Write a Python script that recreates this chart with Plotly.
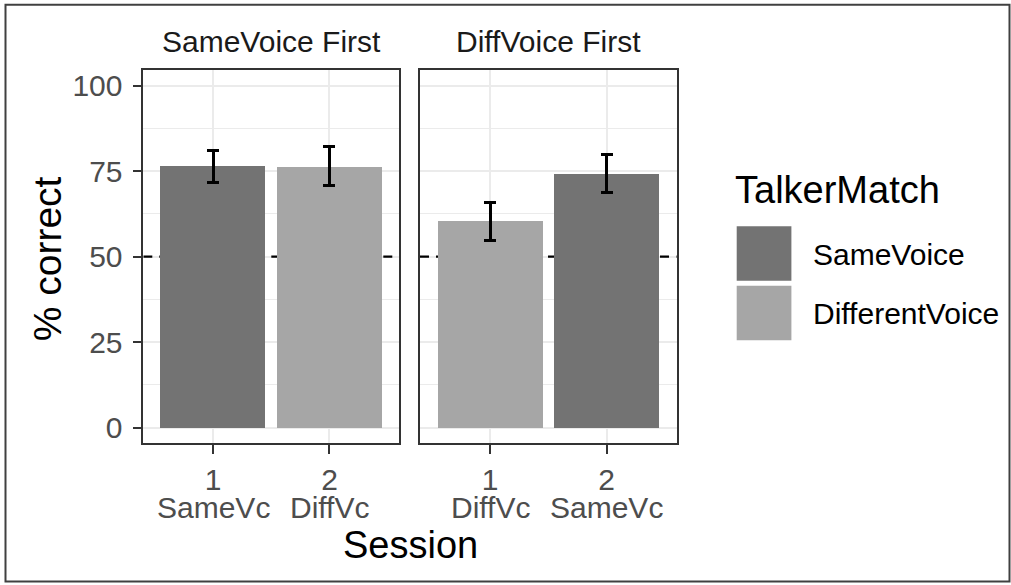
import plotly.graph_objects as go

# ---------------- data ----------------
panels = ["SameVoice First", "DiffVoice First"]
sessions = [1, 2]
session_numbers = ["1", "2"]
session_labels = [["SameVc", "DiffVc"], ["DiffVc", "SameVc"]]
talker = [["SameVoice", "DifferentVoice"], ["DifferentVoice", "SameVoice"]]
pct_correct = [[76.5, 76.2], [60.5, 74.3]]
ci_low = [[71.8, 70.8], [54.6, 68.6]]
ci_high = [[80.9, 82.2], [65.8, 79.9]]
legend_levels = ["SameVoice", "DifferentVoice"]
legend_title = "TalkerMatch"
y_ticks = [0, 25, 50, 75, 100]
chance_level = 50
x_title = "Session"
y_title = "% correct"

# ---------------- styles ----------------
fill = {"SameVoice": "#737373", "DifferentVoice": "#A6A6A6"}
FONT = "Liberation Sans, Arial, Helvetica, sans-serif"
W, H = 1011, 585
SMALL = 30
BIG = 38


def px_x(x):
    return x / W


def px_y(y):
    return 1 - y / H


x_domains = [(143.3, 399.3), (420.0, 676.7)]
y_domain = (443.3, 69.0)

fig = go.Figure()
axis_names = [("x", "y"), ("x2", "y2")]
for i, panel in enumerate(panels):
    xa, ya = axis_names[i]
    fig.add_trace(go.Bar(
        x=sessions,
        y=pct_correct[i],
        width=0.9,
        marker=dict(color=[fill[t] for t in talker[i]], line=dict(width=0)),
        error_y=dict(
            type="data", symmetric=False,
            array=[h - v for h, v in zip(ci_high[i], pct_correct[i])],
            arrayminus=[v - l for v, l in zip(pct_correct[i], ci_low[i])],
            color="black", thickness=3, width=6,
        ),
        xaxis=xa, yaxis=ya, showlegend=False,
        name=panel,
    ))

common_x = dict(
    range=[0.4, 2.6], tickvals=sessions, ticktext=session_numbers,
    ticks="outside", ticklen=9, tickwidth=2.4, tickcolor="#333333",
    showline=True, mirror=True, linecolor="#333333", linewidth=1.6,
    showgrid=True, gridcolor="#EBEBEB", gridwidth=2.4, zeroline=False,
    tickfont=dict(family=FONT, size=SMALL, color="#4D4D4D"),
    fixedrange=True,
)
common_y = dict(
    range=[-4.4, 104.6], tickvals=y_ticks,
    showline=True, mirror=True, linecolor="#333333", linewidth=1.6,
    showgrid=True, gridcolor="#EBEBEB", gridwidth=2.4, zeroline=False,
    minor=dict(dtick=12.5, tick0=0, showgrid=True, gridcolor="#EBEBEB", gridwidth=1.2),
    tickfont=dict(family=FONT, size=SMALL, color="#4D4D4D"),
    domain=[px_y(y_domain[0]), px_y(y_domain[1])],
    fixedrange=True,
)

fig.update_layout(
    width=W, height=H,
    margin=dict(l=0, r=0, t=0, b=0),
    paper_bgcolor="white", plot_bgcolor="white",
    font=dict(family=FONT),
    bargap=0,
    xaxis=dict(common_x, domain=[px_x(x_domains[0][0]), px_x(x_domains[0][1])], anchor="y"),
    xaxis2=dict(common_x, domain=[px_x(x_domains[1][0]), px_x(x_domains[1][1])], anchor="y2"),
    yaxis=dict(common_y, anchor="x", ticks="outside", ticklen=9, tickwidth=2.4,
               tickcolor="#333333", ticklabelstandoff=4),
    yaxis2=dict(common_y, anchor="x2", matches="y", showticklabels=False, ticks=""),
)

shapes = []
annotations = []
for i, panel in enumerate(panels):
    xa, ya = axis_names[i]
    # dashed chance line (between grid and bars)
    shapes.append(dict(type="line", xref=xa, yref=ya, x0=0.4, x1=2.6,
                       y0=chance_level, y1=chance_level, layer="between",
                       line=dict(color="black", width=2.4, dash="9px,7px")))
    # strip label
    cx = (x_domains[i][0] + x_domains[i][1]) / 2
    annotations.append(dict(text=panel, xref="paper", yref="paper",
                            x=px_x(cx), y=px_y(41), xanchor="center", yanchor="middle",
                            showarrow=False, font=dict(family=FONT, size=SMALL, color="#1A1A1A")))
    # second line of tick labels
    for s, lab in zip(sessions, session_labels[i]):
        annotations.append(dict(text=lab, xref=xa, yref="paper", x=s, y=px_y(508),
                                xanchor="center", yanchor="middle", showarrow=False,
                                font=dict(family=FONT, size=SMALL, color="#4D4D4D")))

# axis titles
annotations.append(dict(text=x_title, xref="paper", yref="paper",
                        x=px_x((x_domains[0][0] + x_domains[1][1]) / 2), y=px_y(546),
                        xanchor="center", yanchor="middle", showarrow=False,
                        font=dict(family=FONT, size=BIG, color="black")))
annotations.append(dict(text=y_title, xref="paper", yref="paper",
                        x=px_x(47), y=px_y((y_domain[0] + y_domain[1]) / 2 + 3),
                        xanchor="center", yanchor="middle", textangle=-90, showarrow=False,
                        font=dict(family=FONT, size=BIG + 1, color="black")))

# legend (drawn manually)
annotations.append(dict(text=legend_title, xref="paper", yref="paper",
                        x=px_x(733), y=px_y(190), xanchor="left", yanchor="middle",
                        showarrow=False, font=dict(family=FONT, size=BIG, color="black")))
key_top = 226.0
key_size = 54.7
key_gap = 5.0
for k, lev in enumerate(legend_levels):
    y0 = key_top + k * (key_size + key_gap)
    shapes.append(dict(type="rect", xref="paper", yref="paper",
                       x0=px_x(736.7), x1=px_x(736.7 + key_size),
                       y0=px_y(y0), y1=px_y(y0 + key_size),
                       fillcolor=fill[lev], line=dict(width=0)))
    annotations.append(dict(text=lev, xref="paper", yref="paper",
                            x=px_x(811), y=px_y(y0 + key_size / 2 + 1),
                            xanchor="left", yanchor="middle", showarrow=False,
                            font=dict(family=FONT, size=SMALL, color="black")))

# outer border
shapes.append(dict(type="rect", xref="paper", yref="paper",
                   x0=px_x(5.5), x1=px_x(1009.5), y0=px_y(582.5), y1=px_y(3.8),
                   line=dict(color="#404040", width=2), fillcolor="rgba(0,0,0,0)"))

fig.update_layout(shapes=shapes, annotations=annotations)
fig.write_html("out.html")
